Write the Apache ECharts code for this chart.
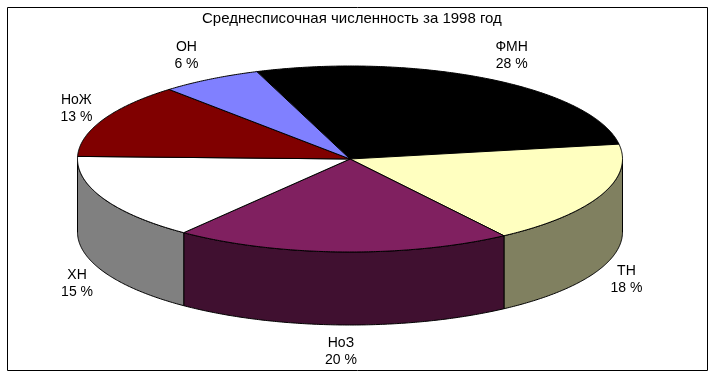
<!DOCTYPE html>
<html>
<head>
<meta charset="utf-8">
<script src="https://cdn.jsdelivr.net/npm/echarts@6/dist/echarts.min.js"></script>
<style>
  html, body { margin: 0; padding: 0; background: #fff; }
  #chart { width: 715px; height: 378px; }
</style>
</head>
<body>
<div id="chart"></div>
<script>
// ---- data ----
const titleText = 'Среднесписочная численность за 1998 год';
const categories = ['ФМН', 'ТН', 'НоЗ', 'ХН', 'НоЖ', 'ОН'];
const percents = [28, 18, 20, 15, 13, 6];
const topColors = ['#000000', '#FFFFC0', '#802060', '#FFFFFF', '#800000', '#8080FF'];
const sideColors = ['#000000', '#808060', '#401030', '#808080', '#400000', '#404080'];

// ---- layout ----
const CX = 350, CY = 159, RX = 272.5, RY = 93, DEPTH = 73;
const START = -20; // degrees, clockwise from 12 o'clock
const FONT = 'Liberation Sans, Arial, sans-serif';

const total = percents.reduce((a, b) => a + b, 0);
const starts = [], ends = [];
let acc = START;
percents.forEach(v => { starts.push(acc); acc += v / total * 360; ends.push(acc); });

function pt(deg, dy) {
  const t = deg * Math.PI / 180;
  return [CX + RX * Math.sin(t), CY - RY * Math.cos(t) + (dy || 0)];
}
function arcPts(a, b, dy) {
  const pts = [];
  const n = Math.max(2, Math.ceil(Math.abs(b - a) / 0.5));
  for (let i = 0; i <= n; i++) pts.push(pt(a + (b - a) * i / n, dy));
  return pts;
}

function renderSide(params, api) {
  const i = params.dataIndex;
  const a = starts[i], b = ends[i];
  const pieces = [];
  for (const off of [-360, 0, 360]) {
    const s = Math.max(a + off, 90), e = Math.min(b + off, 270);
    if (e > s) pieces.push([s, e]);
  }
  const children = pieces.map(([s, e]) => {
    const top = arcPts(s, e, 0);
    const bot = arcPts(e, s, DEPTH);
    return {
      type: 'polygon',
      shape: { points: top.concat(bot) },
      style: { fill: sideColors[i], stroke: '#000', lineWidth: 1 }
    };
  });
  return { type: 'group', children };
}

function renderTop(params, api) {
  const i = params.dataIndex;
  const a = starts[i], b = ends[i];
  const pts = [[CX, CY]].concat(arcPts(a, b, 0));
  const mid = (a + b) / 2;
  const t = mid * Math.PI / 180;
  const s = Math.sin(t), c = Math.cos(t);
  const lrx = 285 + 40 * Math.abs(c);
  const lry = 120;
  const lx = CX + lrx * s;
  const ly = CY - lry * c + (c < 0 ? DEPTH : 0);
  return {
    type: 'group',
    children: [
      {
        type: 'polygon',
        shape: { points: pts },
        style: { fill: topColors[i], stroke: '#000', lineWidth: 1 }
      },
      {
        type: 'text',
        x: lx, y: ly,
        style: {
          text: categories[i] + '\n' + api.value(0) + ' %',
          fill: '#000',
          font: '14px ' + FONT,
          lineHeight: 17,
          align: 'center',
          verticalAlign: 'middle'
        }
      }
    ]
  };
}

const seriesData = categories.map((name, i) => ({ name, value: [percents[i]] }));

const chart = echarts.init(document.getElementById('chart'), null, { renderer: 'canvas' });
chart.setOption({
  backgroundColor: '#ffffff',
  animation: false,
  title: {
    text: titleText,
    left: 202,
    top: 11,
    padding: 0,
    textStyle: { fontFamily: FONT, fontSize: 15, fontWeight: 'normal', color: '#000' }
  },
  graphic: [{
    type: 'rect',
    shape: { x: 7.5, y: 7.5, width: 700, height: 363 },
    style: { fill: 'none', stroke: '#000', lineWidth: 1 },
    z: 0
  }],
  series: [
    { type: 'custom', coordinateSystem: 'none', renderItem: renderSide, data: seriesData, z: 1, silent: true },
    { type: 'custom', coordinateSystem: 'none', renderItem: renderTop, data: seriesData, z: 2, silent: true }
  ]
});
</script>
</body>
</html>
